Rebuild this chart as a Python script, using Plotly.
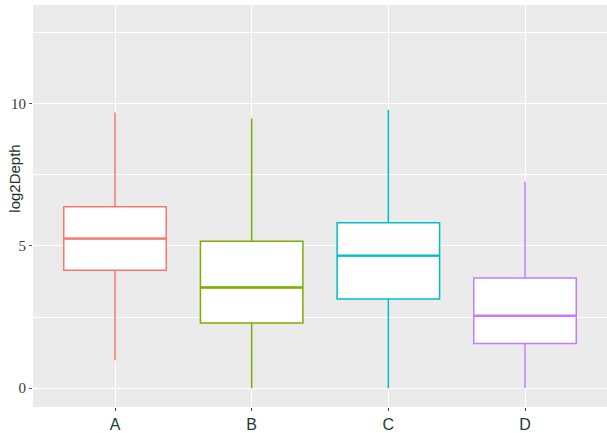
import plotly.graph_objects as go

groups = ["A", "B", "C", "D"]
lower = [0.98, 0.0, 0.0, 0.0]
q1 = [4.15, 2.29, 3.14, 1.57]
median = [5.26, 3.54, 4.66, 2.55]
q3 = [6.38, 5.17, 5.82, 3.87]
upper = [9.69, 9.48, 9.79, 7.26]
colors = ["#F8766D", "#7CAE00", "#00BFC4", "#C77CFF"]
y_ticks = [0, 5, 10]

BOX_W = 0.75

fig = go.Figure()
for i, g in enumerate(groups):
    fig.add_trace(go.Box(
        x=[g], q1=[q1[i]], median=[median[i]], q3=[q3[i]],
        lowerfence=[lower[i]], upperfence=[upper[i]],
        fillcolor="white", line=dict(color=colors[i], width=1.5),
        whiskerwidth=0, width=BOX_W, boxpoints=False, showlegend=False,
        hoverinfo="skip",
    ))
    # thicker median bar like ggplot
    fig.add_shape(
        type="line", xref="x", yref="y",
        x0=i - BOX_W / 2, x1=i + BOX_W / 2, y0=median[i], y1=median[i],
        line=dict(color=colors[i], width=2.4), layer="above",
    )

fig.update_layout(
    width=607, height=433,
    margin=dict(l=33, r=0, t=5, b=23),
    paper_bgcolor="white", plot_bgcolor="#EBEBEB",
    showlegend=False,
    annotations=[dict(
        text="log2Depth",
        x=(15 - 33) / (607 - 33), y=(433 - 23 - 180) / (433 - 28),
        xref="paper", yref="paper", xanchor="center", yanchor="middle",
        showarrow=False, textangle=-90,
        font=dict(family="Liberation Sans", size=15, color="#1e2e2b"),
    )],
)

fig.update_xaxes(
    type="category", categoryorder="array", categoryarray=groups,
    range=[-0.6, 3.6], showgrid=True, gridcolor="white", gridwidth=1.1,
    ticks="outside", ticklen=3, tickcolor="#444", zeroline=False,
    showline=False,
    tickfont=dict(family="Liberation Sans", size=16, color="#1e3a34"),
)
fig.update_yaxes(
    range=[-0.66, 13.47], tickvals=y_ticks, ticktext=[str(v) for v in y_ticks],
    showgrid=True, gridcolor="white", gridwidth=1.1, zeroline=False,
    ticks="outside", ticklen=3, tickcolor="#555", showline=False,
    tickfont=dict(family="Liberation Serif", size=15, color="#3a3a3a"),
    minor=dict(tickvals=[2.5, 7.5, 12.5], showgrid=True, gridcolor="white", gridwidth=0.6),
)

fig.write_html("out.html")
